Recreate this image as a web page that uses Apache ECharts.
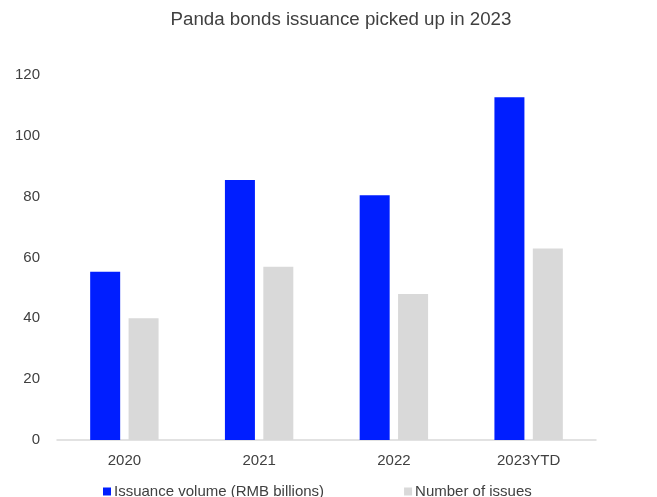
<!DOCTYPE html>
<html>
<head>
<meta charset="utf-8">
<script src="https://cdn.jsdelivr.net/npm/echarts@6/dist/echarts.min.js"></script>
<style>
  html, body { margin: 0; padding: 0; background: #fff; }
  #show_picture { width: 657px; height: 497px; }
</style>
</head>
<body>
<div id="show_picture"></div>
<script>
const categories = ['2020', '2021', '2022', '2023YTD'];
const volume = [55.3, 85.5, 80.5, 112.7];
const issues = [40, 57, 48, 63];
const seriesNames = ['Issuance volume (RMB billions)', 'Number of issues'];

let myChart = echarts.init(document.getElementById('show_picture'));

let option = {
    animation: false,
    textStyle: { fontFamily: 'Liberation Sans, Arial, sans-serif' },
    title: {
        text: 'Panda bonds issuance picked up in 2023',
        left: 336,
        textAlign: 'center',
        top: 5,
        textStyle: {
            color: '#404040',
            fontWeight: 'normal',
            fontSize: 18.7
        }
    },
    legend: {
        left: 103,
        top: 484,
        padding: 0,
        icon: 'rect',
        itemWidth: 8,
        itemHeight: 8,
        itemGap: 80,
        textStyle: { color: '#404040', fontSize: 15, padding: [0, 0, 0, -2] },
        data: seriesNames
    },
    grid: {
        left: 57,
        width: 539,
        top: 75,
        height: 365,
        containLabel: false
    },
    xAxis: {
        type: 'category',
        data: categories,
        axisLine: { lineStyle: { color: '#D9D9D9', width: 1.5 } },
        axisTick: { show: false },
        axisLabel: { color: '#404040', fontSize: 15, margin: 13 }
    },
    yAxis: {
        type: 'value',
        min: 0,
        max: 120,
        interval: 20,
        axisLine: { show: false },
        axisTick: { show: false },
        splitLine: { show: false },
        axisLabel: { color: '#404040', fontSize: 15, margin: 17 }
    },
    series: [
        {
            name: seriesNames[0],
            type: 'bar',
            data: volume,
            barWidth: 30,
            barGap: '28%',
            itemStyle: { color: '#001EFF' }
        },
        {
            name: seriesNames[1],
            type: 'bar',
            data: issues,
            barWidth: 30,
            itemStyle: { color: '#D9D9D9' }
        }
    ]
};

option && myChart.setOption(option);
</script>
</body>
</html>
